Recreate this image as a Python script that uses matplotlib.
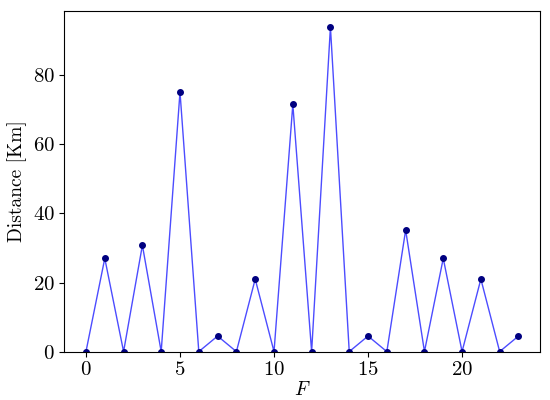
import matplotlib
matplotlib.use("Agg")
import matplotlib.pyplot as plt

plt.rcParams["font.family"] = "serif"
plt.rcParams["font.serif"] = ["cmr10", "DejaVu Serif"]
plt.rcParams["mathtext.fontset"] = "cm"
plt.rcParams["axes.formatter.use_mathtext"] = True

frames = list(range(24))
distance = [0, 27, 0, 30.8, 0, 75.2, 0, 4.5, 0, 21, 0, 71.6,
            0, 94, 0, 4.5, 0, 35.2, 0, 27, 0, 21, 0, 4.5]

fig, ax = plt.subplots(figsize=(5.5, 4), dpi=100)
ax.plot(frames, distance, color="blue", alpha=0.7, linewidth=1.0)
ax.plot(frames, distance, "o", color="navy", markersize=4)
ax.set_ylim(bottom=0)
ax.set_xlabel("$F$", fontsize=14, labelpad=1)
ax.set_ylabel("Distance [Km]", fontsize=14)
ax.tick_params(labelsize=15)
fig.subplots_adjust(left=0.117, right=0.982, top=0.973, bottom=0.121)
fig.savefig("out.png", dpi=100)
